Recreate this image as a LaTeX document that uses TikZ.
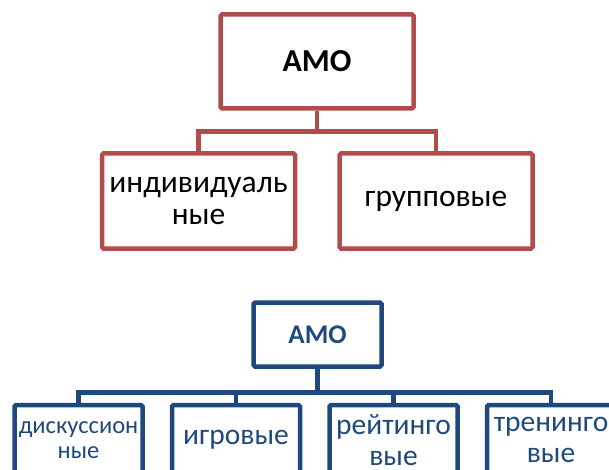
\documentclass[tikz,border=0pt]{standalone}
\usepackage{fontspec}
\setmainfont{Carlito}
\usetikzlibrary{positioning}
\definecolor{amored}{RGB}{176,76,73}
\definecolor{amoblue}{RGB}{31,73,125}
\tikzset{
  redbox/.style={draw=amored, line width=4.5pt, rounded corners=1.5pt, align=center, inner sep=0pt,
    minimum width=193pt, minimum height=95pt, font=\fontsize{31.5}{32}\selectfont},
  bluebox/.style={draw=amoblue, line width=4.5pt, rounded corners=1.5pt, align=center, inner sep=0pt,
    text=amoblue, minimum width=128pt, minimum height=70pt, font=\fontsize{29.5}{31}\selectfont},
  redline/.style={draw=amored, line width=4.5pt},
  blueline/.style={draw=amoblue, line width=4.5pt}
}

\begin{document}
\begin{tikzpicture}[x=1pt,y=-1pt]
\useasboundingbox (0,0) rectangle (609,470);
\clip (0,0) rectangle (609,470);
\node[redbox, minimum height=94pt, font=\fontsize{32}{32}\selectfont\bfseries] (amoA) at (317,61.5) {АМО};
\node[redbox] (ind) at (198.5,201) {индивидуаль\\ные};
\node[redbox] (grp) at (436,201) {групповые};
\coordinate (busA) at (317,131.5);
\draw[redline] (amoA.south) -- (busA) -| (ind.north);
\draw[redline] (busA) -| (grp.north);

\node[bluebox, minimum height=64pt, font=\fontsize{27}{28}\selectfont\bfseries] (amoB) at (317.5,334.5) {АМО};
\node[bluebox, font=\fontsize{24.5}{25}\selectfont] (disc) at (78.5,440) {дискуссион\\ные};
\node[bluebox, right=25pt of disc] (game) {игровые};
\node[bluebox, right=25pt of game] (rate) {рейтинго\\вые};
\node[bluebox, right=25pt of rate] (train) {тренинго\\вые};
\coordinate (busB) at (317.5,392.7);
\draw[blueline] (amoB.south) -- (busB) -| (disc.north);
\draw[blueline] (busB) -| (game.north);
\draw[blueline] (busB) -| (rate.north);
\draw[blueline] (busB) -| (train.north);
\end{tikzpicture}
\end{document}
